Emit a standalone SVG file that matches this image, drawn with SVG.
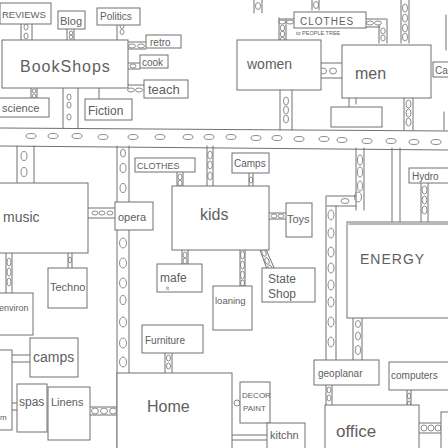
<svg xmlns="http://www.w3.org/2000/svg" width="448" height="448" viewBox="0 0 448 448">
<style>
.l{stroke:#707070;stroke-width:1;fill:none;stroke-linecap:round}
.o{stroke:#808080;stroke-width:0.9;fill:none}
.b{stroke:#707070;stroke-width:1;fill:#fff}
text{font-family:"Liberation Sans",Arial,sans-serif;fill:#606060}
</style>
<rect width="448" height="448" fill="#fff"/>
<g id="connectors">
<path class="l" d="M0 128 L448 131 M0 146 L448 150"/>
<g class="o">
<ellipse cx="31" cy="136" rx="5" ry="2.5"/><ellipse cx="53" cy="136" rx="5" ry="2.5"/><ellipse cx="77" cy="136" rx="5" ry="2.5"/><ellipse cx="103" cy="137" rx="5" ry="2.5"/><ellipse cx="133" cy="137" rx="5" ry="2.5"/><ellipse cx="160" cy="137" rx="5" ry="2.5"/><ellipse cx="188" cy="137" rx="5" ry="2.5"/><ellipse cx="209" cy="137" rx="5" ry="2.5"/><ellipse cx="231" cy="137" rx="5" ry="2.5"/><ellipse cx="256" cy="138" rx="5" ry="2.5"/><ellipse cx="277" cy="138" rx="5" ry="2.5"/><ellipse cx="299" cy="139" rx="5" ry="2.5"/><ellipse cx="324" cy="139" rx="5" ry="2.5"/><ellipse cx="342" cy="140" rx="5" ry="2.5"/><ellipse cx="367" cy="141" rx="5" ry="2.5"/><ellipse cx="391" cy="141" rx="5" ry="2.5"/><ellipse cx="414" cy="142" rx="5" ry="2.5"/><ellipse cx="436" cy="142" rx="5" ry="2.5"/>
</g>
<path class="l" d="M21 24V40M32 24V40M67 29V40M74 29V40M117 24V40M128 42H146M128 49H146M128 63H140M128 69H140M128 85H144M31 88V98M37 88V98M63 88V128M78 88V128M99 88V99"/>
<g class="o"><ellipse cx="26" cy="27" rx="2" ry="3"/><ellipse cx="26" cy="36" rx="2" ry="3"/><ellipse cx="71" cy="33" rx="1.8" ry="2"/><ellipse cx="71" cy="37" rx="1.8" ry="2"/><ellipse cx="122" cy="26" rx="2" ry="2.5"/><ellipse cx="122" cy="32" rx="2" ry="2.5"/><ellipse cx="132" cy="46" rx="3.5" ry="2"/><ellipse cx="141" cy="46" rx="3.5" ry="2"/><ellipse cx="133" cy="66" rx="3" ry="2"/><ellipse cx="131" cy="90" rx="3.5" ry="2"/><ellipse cx="139" cy="90" rx="3.5" ry="2"/><ellipse cx="34" cy="91" rx="1.8" ry="2"/><ellipse cx="34" cy="96" rx="1.8" ry="2"/><ellipse cx="69" cy="97" rx="2" ry="3"/><ellipse cx="69" cy="105" rx="2" ry="3"/><ellipse cx="69" cy="117" rx="2" ry="3"/></g>
<path class="l" d="M254 0V13M262 0V13M312 0V10M319 0V10M401 0V43M409 0V43M279 18V43M286 19V43M279 19H294M366 19H386M366 27H380M379 25V43M387 19V43M317 63H344M317 78H344M280 90V130M292 90V130M349 98V107M356 98V104M404 98V130M413 98V130M446 15V50M444 112V130"/>
<g class="o"><ellipse cx="258" cy="6" rx="2.5" ry="3.5"/><ellipse cx="316" cy="5" rx="2.5" ry="3.5"/><ellipse cx="405" cy="8" rx="2.5" ry="4"/><ellipse cx="405" cy="18" rx="2.5" ry="4"/><ellipse cx="405" cy="28" rx="2.5" ry="4"/><ellipse cx="405" cy="37" rx="2.5" ry="4"/><ellipse cx="282" cy="22" rx="3.5" ry="2"/><ellipse cx="290" cy="22" rx="3.5" ry="2"/><ellipse cx="282.5" cy="28" rx="2.2" ry="3"/><ellipse cx="282.5" cy="34" rx="2.2" ry="3"/><ellipse cx="282.5" cy="40" rx="2.2" ry="3"/><ellipse cx="370" cy="23" rx="3.5" ry="2"/><ellipse cx="378" cy="23" rx="3.5" ry="2"/><ellipse cx="383" cy="31" rx="2.2" ry="3"/><ellipse cx="383" cy="38" rx="2.2" ry="3"/><ellipse cx="323" cy="71" rx="3.5" ry="3"/><ellipse cx="333" cy="71" rx="3.5" ry="3"/><ellipse cx="286" cy="101" rx="2.5" ry="4"/><ellipse cx="286" cy="110" rx="2.5" ry="4"/><ellipse cx="286" cy="119" rx="2.5" ry="4"/><ellipse cx="408.5" cy="104" rx="2.5" ry="4"/><ellipse cx="408.5" cy="113" rx="2.5" ry="4"/><ellipse cx="408.5" cy="122" rx="2.5" ry="4"/></g>
<path class="l" d="M17 146V183M34 146V183M88 208H118M88 218H118M117 146V448M129 146V373M177 172V187M183 172V187M207 146V186M213 146V186M249 173V186M253 173V186M269 213H286M269 219H286M182 250V265M188 250V265M240 247V287M245 247V287M259 247L268 272M265 247L275 270"/>
<g class="o"><ellipse cx="24" cy="156" rx="3" ry="4.5"/><ellipse cx="24" cy="172" rx="3" ry="4.5"/><ellipse cx="95" cy="213" rx="3" ry="2"/><ellipse cx="102" cy="213" rx="3" ry="2"/><ellipse cx="110" cy="213" rx="3" ry="2"/><ellipse cx="123" cy="153" rx="2.5" ry="4"/><ellipse cx="123" cy="168" rx="3" ry="4.5"/><ellipse cx="123" cy="188" rx="3" ry="4.5"/><ellipse cx="123" cy="243" rx="3.5" ry="5"/><ellipse cx="123" cy="263" rx="3.5" ry="5"/><ellipse cx="123" cy="283" rx="3.5" ry="5"/><ellipse cx="123" cy="300" rx="3" ry="4.5"/><ellipse cx="123" cy="322" rx="3.5" ry="5"/><ellipse cx="123" cy="343" rx="3.5" ry="5"/><ellipse cx="123" cy="362" rx="3.5" ry="5"/><ellipse cx="180" cy="177" rx="2" ry="3"/><ellipse cx="180" cy="183" rx="2" ry="3"/><ellipse cx="210" cy="155" rx="2.3" ry="4"/><ellipse cx="210" cy="165" rx="2.3" ry="4"/><ellipse cx="210" cy="176" rx="2.3" ry="4"/><ellipse cx="251" cy="180" rx="1.8" ry="3"/><ellipse cx="274" cy="216" rx="3" ry="2"/><ellipse cx="281" cy="216" rx="3" ry="2"/><ellipse cx="185" cy="255" rx="2" ry="3"/><ellipse cx="185" cy="261" rx="2" ry="3"/><ellipse cx="242.5" cy="255" rx="2" ry="4"/><ellipse cx="242.5" cy="265" rx="2" ry="4"/><ellipse cx="242.5" cy="275" rx="2" ry="4"/><ellipse cx="242.5" cy="283" rx="2" ry="3"/><ellipse cx="264" cy="253" rx="2" ry="3.5" transform="rotate(-20 264 253)"/><ellipse cx="267" cy="261" rx="2" ry="3.5" transform="rotate(-20 267 261)"/><ellipse cx="270" cy="268" rx="2" ry="3" transform="rotate(-20 270 268)"/></g>
<path class="l" d="M356 148V210M364 148V210M327 196H356M327 206H356M326 196V360M336 206V360M392 148V222M400 148V222M421 183V222M428 183V222M353 318V360M362 318V360M326 385V405M332 385V405M407 390V410M411 390V410M419 423H441M419 433H441"/>
<g class="o"><ellipse cx="360" cy="160" rx="2.5" ry="5"/><ellipse cx="360" cy="172" rx="2.5" ry="5"/><ellipse cx="360" cy="186" rx="2.5" ry="5"/><ellipse cx="358" cy="197" rx="3.5" ry="5"/><ellipse cx="345" cy="201" rx="4" ry="2.5"/><ellipse cx="331" cy="215" rx="3" ry="5"/><ellipse cx="331" cy="233" rx="3" ry="5"/><ellipse cx="331" cy="252" rx="3" ry="5"/><ellipse cx="331" cy="268" rx="3" ry="5"/><ellipse cx="331" cy="285" rx="3" ry="5"/><ellipse cx="331" cy="302" rx="3" ry="5"/><ellipse cx="331" cy="322" rx="3" ry="5"/><ellipse cx="331" cy="342" rx="3" ry="5"/><ellipse cx="424.5" cy="190" rx="2.5" ry="4"/><ellipse cx="424.5" cy="200" rx="2.5" ry="4"/><ellipse cx="424.5" cy="210" rx="2.5" ry="4"/><ellipse cx="358" cy="324" rx="2.5" ry="3.5"/><ellipse cx="358" cy="336" rx="2.5" ry="4"/><ellipse cx="358" cy="350" rx="2.5" ry="4.5"/><ellipse cx="329" cy="390" rx="2" ry="3"/><ellipse cx="329" cy="398" rx="2" ry="3"/><ellipse cx="409" cy="396" rx="1.5" ry="3"/><ellipse cx="409" cy="404" rx="1.5" ry="3"/><ellipse cx="424" cy="428" rx="3" ry="3"/><ellipse cx="431" cy="428" rx="3" ry="3"/><ellipse cx="438" cy="428" rx="3" ry="3"/></g>
<path class="l" d="M165 353V373M172 353V373M232 435H267M232 440H267M6 253V293M12 253V293M68 253V268M72 253V268M12 355H30M12 362H30M12 403H17M12 410H17M88 407H117M88 415H117"/>
<g class="o"><ellipse cx="168.5" cy="358" rx="2" ry="3"/><ellipse cx="168.5" cy="366" rx="2" ry="3"/><circle cx="237" cy="403" r="3"/><ellipse cx="9" cy="262" rx="2" ry="4"/><ellipse cx="9" cy="272" rx="2" ry="4"/><ellipse cx="9" cy="282" rx="2" ry="4"/><ellipse cx="70" cy="260" rx="1.5" ry="3"/><ellipse cx="95" cy="411" rx="3.5" ry="3"/><ellipse cx="104" cy="411" rx="3.5" ry="3"/><ellipse cx="113" cy="411" rx="3.5" ry="3"/></g>
</g>
<g id="reviews"><rect class="b" x="0" y="3" width="51" height="21"/><text x="2" y="18" font-size="9.5">REVIEWS</text></g>
<g id="blog"><rect class="b" x="58" y="11" width="27" height="18"/><text x="60" y="25" font-size="11">Blog</text></g>
<g id="politics"><rect class="b" x="97" y="8" width="43" height="17"/><text x="100" y="20" font-size="10">Politics</text></g>
<g id="bookshops"><rect class="b" x="2" y="40" width="126" height="48"/><text x="20" y="72" font-size="16" letter-spacing="1">BookShops</text></g>
<g id="retro"><rect class="b" x="146" y="35" width="35" height="13"/><text x="150" y="45.5" font-size="10">retro</text></g>
<g id="cook"><rect class="b" x="140" y="55" width="28" height="13"/><text x="142" y="65.5" font-size="10">cook</text></g>
<g id="teach"><rect class="b" x="144" y="80" width="44" height="18"/><text x="148" y="94" font-size="13">teach</text></g>
<g id="science"><rect class="b" x="-2" y="98" width="51" height="19"/><text x="2" y="112" font-size="11">science</text></g>
<g id="fiction"><rect class="b" x="85" y="99" width="47" height="21"/><text x="88" y="115" font-size="12">Fiction</text></g>
<g id="clothes"><rect class="b" x="294" y="12" width="72" height="16"/><text x="300" y="25" font-size="10" letter-spacing="1">CLOTHES</text><text x="296" y="35" font-size="5.5">to PEOPLE TREE</text></g>
<g id="women"><rect class="b" x="237" y="40" width="84" height="50"/><text x="247" y="69" font-size="14">women</text></g>
<g id="men"><rect class="b" x="342" y="45" width="89" height="53"/><text x="355" y="79" font-size="16">men</text></g>
<g id="men-sub"><rect class="b" x="331" y="107" width="51" height="20"/></g>
<g id="ca"><rect class="b" x="433" y="62" width="17" height="15"/><text x="435" y="74" font-size="10">Ca</text></g>
<g id="music"><rect class="b" x="-2" y="183" width="90" height="70"/><text x="3" y="222" font-size="14">music</text></g>
<g id="opera"><rect class="b" x="115" y="202" width="38" height="28"/><text x="118" y="221" font-size="11">opera</text></g>
<g id="clothes2"><rect class="b" x="135" y="158" width="60" height="14"/><text x="137" y="169" font-size="9">CLOTHES</text></g>
<g id="kids"><rect class="b" x="172" y="186" width="97" height="64"/><text x="200" y="220" font-size="16">kids</text></g>
<g id="camps-top"><rect class="b" x="232" y="153" width="37" height="20"/><text x="234" y="167" font-size="10">Camps</text></g>
<g id="toys"><rect class="b" x="286" y="203" width="26" height="34"/><text x="287" y="223" font-size="11">Toys</text></g>
<g id="mafe"><rect class="b" x="157" y="264" width="45" height="28"/><text x="160" y="282" font-size="12">mafe</text><text x="166" y="290" font-size="6">it</text></g>
<g id="loaning"><rect class="b" x="213" y="286" width="39" height="44"/><text x="215" y="304" font-size="9.5">loaning</text></g>
<g id="stateshop"><rect class="b" x="262" y="268" width="53" height="34"/><text x="268" y="283" font-size="12">State</text><text x="268" y="298" font-size="12">Shop</text></g>
<g id="hydro"><rect class="b" x="409" y="168" width="42" height="15"/><text x="412" y="180" font-size="10">Hydro</text></g>
<g id="energy"><rect class="b" x="347" y="222" width="104" height="96"/><path class="l" d="M349 224H448"/><text x="360" y="264" font-size="14" letter-spacing="1">ENERGY</text></g>
<g id="geoplanar"><rect class="b" x="314" y="360" width="65" height="25"/><text x="318" y="377" font-size="10">geoplanar</text></g>
<g id="computers"><rect class="b" x="389" y="362" width="62" height="28"/><text x="391" y="379" font-size="10">computers</text></g>
<g id="office"><rect class="b" x="325" y="405" width="94" height="45"/><text x="336" y="437" font-size="17">office</text></g>
<g id="office-right"><rect class="b" x="441" y="412" width="10" height="40"/></g>
<g id="furniture"><rect class="b" x="142" y="325" width="61" height="28"/><text x="145" y="344" font-size="10">Furniture</text></g>
<g id="home"><rect class="b" x="117" y="373" width="115" height="80"/><text x="147" y="412" font-size="16">Home</text></g>
<g id="decorpaint"><rect class="b" x="240" y="382" width="30" height="41"/><text x="242" y="398" font-size="8">DECOR</text><text x="243" y="411" font-size="8">PAINT</text></g>
<g id="kitchen"><rect class="b" x="267" y="423" width="38" height="27"/><text x="270" y="439" font-size="11">kitchn</text></g>
<g id="techno"><rect class="b" x="48" y="268" width="39" height="40"/><text x="50" y="291" font-size="11">Techno</text></g>
<g id="environ"><rect class="b" x="-2" y="293" width="35" height="42"/><text x="-1" y="311" font-size="9">environ</text></g>
<g id="camps"><rect class="b" x="30" y="338" width="48" height="39"/><text x="33" y="362" font-size="14">camps</text></g>
<g id="leftbox"><rect class="b" x="-2" y="350" width="14" height="80"/><text x="0" y="420" font-size="8">m</text></g>
<g id="spas"><rect class="b" x="17" y="384" width="30" height="48"/><text x="19" y="406" font-size="12">spas</text></g>
<g id="linens"><rect class="b" x="48" y="387" width="42" height="53"/><text x="51" y="406" font-size="11">Linens</text></g>
</svg>
